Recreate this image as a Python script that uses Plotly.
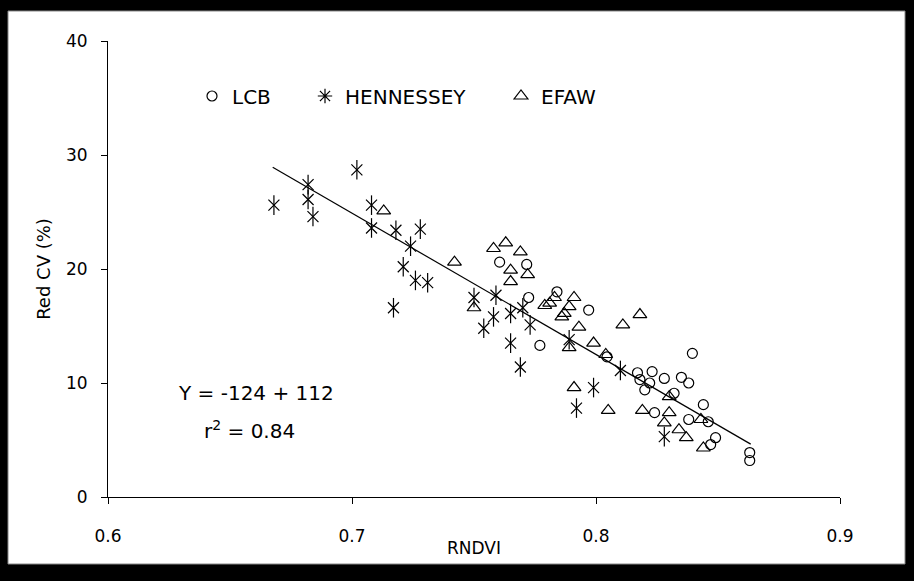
import plotly.graph_objects as go

# ---- data ----
lcb_x = [0.7605, 0.7716, 0.7724, 0.784, 0.797, 0.777, 0.8045, 0.817, 0.823, 0.828,
         0.835, 0.838, 0.8395, 0.818, 0.822, 0.824, 0.838, 0.844, 0.846, 0.849,
         0.847, 0.863, 0.863, 0.832, 0.820]
lcb_y = [20.6, 20.4, 17.5, 18.0, 16.4, 13.3, 12.3, 10.9, 11.0, 10.4,
         10.5, 10.0, 12.6, 10.3, 10.0, 7.4, 6.8, 8.1, 6.6, 5.2,
         4.6, 3.9, 3.2, 9.1, 9.4]

hen_x = [0.668, 0.682, 0.682, 0.684, 0.702, 0.708, 0.708, 0.718, 0.728, 0.724,
         0.721, 0.726, 0.731, 0.717, 0.750, 0.759, 0.758, 0.754, 0.765, 0.770,
         0.765, 0.773, 0.769, 0.789, 0.799, 0.792, 0.810, 0.828]
hen_y = [25.6, 27.4, 26.1, 24.6, 28.7, 25.6, 23.6, 23.4, 23.5, 22.0,
         20.2, 19.0, 18.8, 16.6, 17.5, 17.7, 15.8, 14.8, 16.1, 16.6,
         13.5, 15.1, 11.4, 13.8, 9.6, 7.8, 11.1, 5.3]

efaw_x = [0.713, 0.742, 0.750, 0.758, 0.763, 0.769, 0.765, 0.765, 0.772, 0.779,
          0.783, 0.791, 0.781, 0.787, 0.786, 0.789, 0.793, 0.789, 0.799, 0.804,
          0.791, 0.805, 0.819, 0.811, 0.818, 0.830, 0.828, 0.834, 0.837, 0.844,
          0.843, 0.830]
efaw_y = [25.1, 20.6, 16.6, 21.8, 22.3, 21.5, 19.9, 18.9, 19.5, 16.8,
          17.5, 17.5, 17.0, 16.1, 15.8, 16.7, 14.9, 13.1, 13.5, 12.5,
          9.6, 7.6, 7.6, 15.1, 16.0, 7.4, 6.5, 5.9, 5.2, 4.3,
          6.8, 8.8]

fit_slope = -124.0
fit_intercept = 111.7
fit_x = [0.6675, 0.8634]
fit_y = [fit_intercept + fit_slope * v for v in fit_x]

x_ticks = [0.6, 0.7, 0.8, 0.9]
y_ticks = [0, 10, 20, 30, 40]

FONT = "DejaVu Sans"
mk_line = dict(color="black", width=1.2)

fig = go.Figure()
fig.add_trace(go.Scatter(x=fit_x, y=fit_y, mode="lines",
                         line=dict(color="black", width=1.2), showlegend=False,
                         hoverinfo="skip"))
fig.add_trace(go.Scatter(x=lcb_x, y=lcb_y, mode="markers", name="LCB",
                         legendwidth=68,
                         marker=dict(symbol="circle-open", size=10, color="black",
                                     line=mk_line)))
# HENNESSEY: six-armed asterisk = diagonal cross + vertical bar
fig.add_trace(go.Scatter(x=[None], y=[None], mode="markers", name="HENNESSEY",
                         legendwidth=151, legendgroup="hen",
                         marker=dict(symbol="asterisk-open", size=12, color="black",
                                     line=mk_line)))
fig.add_trace(go.Scatter(x=hen_x, y=hen_y, mode="markers", name="HENNESSEY",
                         legendgroup="hen", showlegend=False,
                         marker=dict(symbol="x-thin-open", size=11, color="black",
                                     line=mk_line)))
fig.add_trace(go.Scatter(x=hen_x, y=hen_y, mode="markers", name="HENNESSEY",
                         legendgroup="hen", showlegend=False,
                         marker=dict(symbol="line-ns-open", size=14, color="black",
                                     line=mk_line)))
fig.add_trace(go.Scatter(x=efaw_x, y=efaw_y, mode="markers", name="EFAW",
                         marker=dict(symbol="triangle-up-open", size=12, color="black",
                                     line=mk_line)))

L, R, T, B = 108, 74, 41, 84
W, H = 914, 581
pw, ph = W - L - R, H - T - B

def px_x(p):
    return (p - L) / pw

def px_y(p):
    return (H - B - p) / ph

fig.add_shape(type="rect", xref="paper", yref="paper",
              x0=px_x(8), x1=px_x(905), y0=px_y(564), y1=px_y(11),
              fillcolor="white", line=dict(color="#888888", width=1), layer="below")

fig.add_annotation(xref="paper", yref="paper", x=px_x(256), y=px_y(393),
                   xanchor="center", yanchor="middle",
                   text="Y = -124 + 112", showarrow=False,
                   font=dict(family=FONT, size=20, color="black"))
fig.add_annotation(xref="paper", yref="paper", x=px_x(249), y=px_y(430),
                   xanchor="center", yanchor="middle",
                   text="r<sup>2</sup> = 0.84", showarrow=False,
                   font=dict(family=FONT, size=20, color="black"))
fig.add_annotation(xref="paper", yref="paper", x=0.5, y=px_y(548),
                   xanchor="center", yanchor="middle",
                   text="RNDVI", showarrow=False,
                   font=dict(family=FONT, size=17, color="black"))

axis_common = dict(showgrid=False, zeroline=False, showline=True, linecolor="black",
                   linewidth=1, ticks="outside", ticklen=6, tickcolor="black",
                   tickfont=dict(family=FONT, size=17, color="black"), mirror=False)

fig.update_xaxes(range=[0.6, 0.9], tickvals=x_ticks, ticktext=[str(v) for v in x_ticks],
                 ticklabelstandoff=18, **axis_common)
fig.update_yaxes(range=[0, 40], tickvals=y_ticks,
                 title=dict(text="Red CV (%)", font=dict(family=FONT, size=18, color="black"),
                            standoff=10),
                 ticklabelstandoff=10, **axis_common)

fig.update_layout(width=W, height=H, margin=dict(l=L, r=R, t=T, b=B, autoexpand=False),
                  paper_bgcolor="black", plot_bgcolor="rgba(0,0,0,0)",
                  font=dict(family=FONT, size=17, color="black"),
                  legend=dict(orientation="h", x=px_x(192), y=px_y(96),
                              xanchor="left", yanchor="middle",
                              bgcolor="rgba(0,0,0,0)",
                              font=dict(family=FONT, size=20, color="black")),
                  showlegend=True)

fig.write_html("out.html")
